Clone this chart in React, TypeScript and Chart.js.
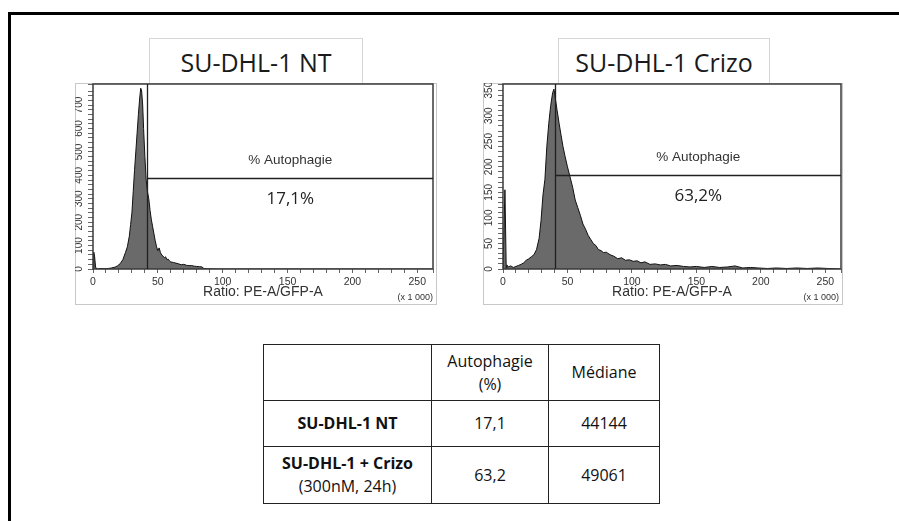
import React, { useEffect, useRef } from "react";
import { Chart, registerables } from "chart.js";

Chart.register(...registerables);

// ---------- DATA ----------
// Ratio PE-A/GFP-A (x 1 000) bin positions and event counts, SU-DHL-1 NT
const NT_X = [0, 0.6, 1.2, 2, 3, 6, 10, 14, 17, 19, 21, 23, 25, 26.5, 28, 29, 30, 31, 32, 33, 34, 35, 36, 36.8, 37.5, 38.3, 39, 40, 41, 42, 43, 44, 45, 46, 47, 48, 49, 50, 51, 52, 53, 54, 55, 56, 57, 58, 59, 60, 62, 64, 66, 68, 70, 72, 74, 76, 78, 80, 82, 84, 85, 86, 88, 95, 120, 180, 262];
const NT_Y = [0, 72, 55, 8, 0, 2, 1, 4, 8, 14, 23, 40, 70, 95, 140, 190, 240, 330, 420, 500, 580, 660, 730, 772, 760, 700, 600, 480, 380, 330, 300, 250, 210, 180, 150, 120, 95, 78, 90, 70, 60, 55, 48, 52, 40, 42, 35, 30, 28, 25, 22, 18, 20, 16, 14, 15, 12, 11, 10, 9, 4, 2, 1, 0, 0, 0, 0];

// SU-DHL-1 Crizo
const CRIZO_X = [0, 1.5, 2, 2.5, 3, 4, 6, 8, 10, 12, 14, 16, 18, 20, 22, 24, 26, 28, 29.5, 31, 32.5, 34, 35.5, 37, 38.5, 39.5, 40.5, 42, 43.5, 45, 46.5, 48, 50, 52, 54, 56, 58, 60, 62, 64, 66, 68, 70, 72, 74, 76, 78, 80, 83, 86, 89, 92, 95, 98, 101, 104, 107, 110, 114, 118, 122, 126, 130, 135, 140, 145, 150, 156, 162, 168, 174, 180, 186, 192, 198, 205, 212, 220, 228, 236, 244, 252, 262];
const CRIZO_Y = [0, 155, 78, 0, 8, 4, 6, 3, 5, 7, 9, 12, 17, 20, 24, 28, 38, 60, 95, 145, 175, 240, 285, 320, 345, 352, 335, 310, 285, 262, 240, 222, 200, 180, 160, 135, 120, 105, 88, 78, 66, 58, 50, 46, 38, 36, 32, 33, 28, 25, 20, 22, 17, 18, 15, 16, 12, 14, 9, 10, 8, 9, 6, 7, 5, 4, 5, 3, 5, 3, 4, 6, 2, 3, 2, 1, 2, 1, 2, 1, 2, 1, 0];

const TITLES = ["SU-DHL-1 NT", "SU-DHL-1 Crizo"];
const GATE_X = [42, 40.6];
const GATE_Y = [388, 183];
const GATE_PCT = ["17,1%", "63,2%"];
const Y_MAX = [790, 362];
const Y_STEP = [20, 10];
const Y_LABEL_STEP = [100, 50];
const X_MAX = 262.144;
const X_LABEL_STEP = 50;
const X_TITLE = "Ratio: PE-A/GFP-A";
const GATE_NAME = "% Autophagie";

const TABLE_HEAD = ["", "Autophagie\n(%)", "Médiane"];
const TABLE_ROW_NAMES = ["SU-DHL-1 NT", "SU-DHL-1 + Crizo"];
const TABLE_ROW_SUB = ["", "(300nM, 24h)"];
const TABLE_PCT = ["17,1", "63,2"];
const TABLE_MEDIAN = ["44144", "49061"];

// ---------- PLOT ----------
const gatePlugin = {
  id: "gate",
  afterDatasetsDraw(chart: any, _args: any, opts: any) {
    const { ctx, chartArea: a, scales } = chart;
    const x = scales.x;
    const y = scales.y;
    ctx.save();
    ctx.strokeStyle = "#3a3a3a";
    ctx.lineWidth = 1.5;
    ctx.strokeRect(a.left, a.top, a.right - a.left, a.bottom - a.top);
    const gx = Math.round(x.getPixelForValue(opts.gateX)) + 0.5;
    const gy = Math.round(y.getPixelForValue(opts.gateY)) + 0.5;
    ctx.strokeStyle = "#202020";
    ctx.lineWidth = 1.3;
    ctx.beginPath();
    ctx.moveTo(gx, a.bottom);
    ctx.lineTo(gx, a.top);
    ctx.moveTo(gx, gy);
    ctx.lineTo(a.right, gy);
    ctx.stroke();
    const cx = (gx + a.right) / 2;
    ctx.textAlign = "center";
    ctx.textBaseline = "middle";
    ctx.fillStyle = "#333";
    ctx.font = '13.5px "Liberation Sans", Arial, sans-serif';
    ctx.fillText(opts.name, cx, gy - 18);
    ctx.fillStyle = "#222";
    ctx.font = '17px "Open Sans", sans-serif';
    ctx.fillText(opts.pct, cx, gy + 21);
    ctx.fillStyle = "#333";
    ctx.font = '9px "Liberation Sans", Arial, sans-serif';
    ctx.textAlign = "right";
    ctx.fillText("(x 1 000)", chart.width - 4, chart.height - 7);
    ctx.restore();
  },
};

type HistProps = {
  idx: number;
  xs: number[];
  ys: number[];
  left: number;
  top: number;
  width: number;
  height: number;
  yAxisWidth: number;
  padRight: number;
};

function Histogram({ idx, xs, ys, left, top, width, height, yAxisWidth, padRight }: HistProps) {
  const ref = useRef<HTMLCanvasElement | null>(null);
  useEffect(() => {
    if (!ref.current) return;
    const points = xs.map((v, i) => ({ x: v, y: ys[i] }));
    const chart = new Chart(ref.current, {
      type: "line",
      data: {
        datasets: [
          {
            data: points,
            borderColor: "#111",
            borderWidth: 1,
            backgroundColor: "#6a6a6a",
            fill: "origin",
            pointRadius: 0,
            tension: 0,
          },
        ],
      },
      options: {
        animation: false,
        responsive: false,
        events: [],
        layout: { padding: { top: 1, right: padRight, left: 0, bottom: 0 } },
        plugins: {
          legend: { display: false },
          tooltip: { enabled: false },
          gate: { gateX: GATE_X[idx], gateY: GATE_Y[idx], pct: GATE_PCT[idx], name: GATE_NAME },
        } as any,
        scales: {
          x: {
            type: "linear",
            min: 0,
            max: X_MAX,
            afterFit: (s: any) => {
              s.height = 36;
              s.paddingLeft = 0;
              s.paddingRight = 0;
            },
            ticks: {
              stepSize: 10,
              autoSkip: false,
              maxRotation: 0,
              padding: 3,
              color: "#333",
              font: { size: 10.5, family: '"Liberation Sans", Arial, sans-serif' },
              callback: (v: any) => (Number(v) % X_LABEL_STEP === 0 ? String(v) : ""),
            },
            grid: { drawOnChartArea: false, tickLength: 4, color: "#666" },
            border: { display: false },
            title: {
              display: true,
              text: X_TITLE,
              color: "#333",
              font: { size: 14, family: '"Liberation Sans", Arial, sans-serif' },
              padding: { top: 0, bottom: 4 },
            },
          },
          y: {
            type: "linear",
            min: 0,
            max: Y_MAX[idx],
            afterFit: (s: any) => {
              s.width = yAxisWidth;
              s.paddingTop = 0;
              s.paddingBottom = 0;
            },
            ticks: {
              stepSize: Y_STEP[idx],
              autoSkip: false,
              minRotation: 90,
              maxRotation: 90,
              crossAlign: "center",
              padding: 0,
              color: "#333",
              font: { size: 10, family: '"Liberation Sans", Arial, sans-serif' },
              callback: (v: any) => (Number(v) % Y_LABEL_STEP[idx] === 0 ? String(v) : ""),
            },
            grid: { drawOnChartArea: false, tickLength: 5, color: "#666" },
            border: { display: false },
          },
        },
      },
      plugins: [gatePlugin as any],
    });
    return () => chart.destroy();
  }, [idx, xs, ys, yAxisWidth, padRight]);

  return (
    <canvas
      ref={ref}
      width={width}
      height={height}
      style={{ position: "absolute", left, top, width, height, display: "block" }}
    />
  );
}

const font = '"Open Sans", "Noto Sans", sans-serif';

function TitleBox({ text, left, width }: { text: string; left: number; width: number }) {
  return (
    <div
      style={{
        position: "absolute",
        left,
        top: 38,
        width,
        height: 45,
        boxSizing: "border-box",
        border: "1px solid #d6d6d6",
        borderBottom: "none",
        background: "#fff",
        fontFamily: font,
        fontSize: 25,
        color: "#1a1a1a",
        display: "flex",
        alignItems: "center",
        justifyContent: "center",
        paddingTop: 2,
      }}
    >
      {text}
    </div>
  );
}

export default function App() {
  const cell: React.CSSProperties = {
    border: "1.5px solid #222",
    textAlign: "center",
    verticalAlign: "middle",
    padding: 0,
    fontFamily: font,
    fontSize: 16,
    color: "#111",
    lineHeight: "23px",
  };
  return (
    <div style={{ position: "absolute", left: 0, top: 0, width: 899, height: 521, background: "#fff", overflow: "hidden" }}>
      <div
        style={{
          position: "absolute",
          left: 8,
          top: 12,
          width: 900,
          height: 520,
          borderTop: "3px solid #000",
          borderLeft: "3px solid #000",
        }}
      />
      <TitleBox text={TITLES[0]} left={149} width={214} />
      <TitleBox text={TITLES[1]} left={558} width={212} />
      <div style={{ position: "absolute", left: 75, top: 83, width: 362, height: 222, boxSizing: "border-box", border: "1px solid #c8c8c8" }} />
      <div style={{ position: "absolute", left: 483, top: 83, width: 360, height: 222, boxSizing: "border-box", border: "1px solid #c8c8c8" }} />
      <Histogram idx={0} xs={NT_X} ys={NT_Y} left={75} top={83} width={362} height={222} yAxisWidth={18} padRight={4} />
      <Histogram idx={1} xs={CRIZO_X} ys={CRIZO_Y} left={483} top={83} width={360} height={222} yAxisWidth={20} padRight={2} />
      <table
        style={{
          position: "absolute",
          left: 263,
          top: 344,
          width: 396,
          borderCollapse: "collapse",
          tableLayout: "fixed",
        }}
      >
        <colgroup>
          <col style={{ width: 168 }} />
          <col style={{ width: 117 }} />
          <col style={{ width: 111 }} />
        </colgroup>
        <tbody>
          <tr style={{ height: 56 }}>
            {TABLE_HEAD.map((h, i) => (
              <td key={i} style={cell}>
                {h.split("\n").map((line, j) => (
                  <div key={j}>{line}</div>
                ))}
              </td>
            ))}
          </tr>
          {TABLE_ROW_NAMES.map((name, r) => (
            <tr key={r} style={{ height: r === 0 ? 46 : 57 }}>
              <td style={cell}>
                <div style={{ fontWeight: 700 }}>{name}</div>
                {TABLE_ROW_SUB[r] ? <div>{TABLE_ROW_SUB[r]}</div> : null}
              </td>
              <td style={cell}>{TABLE_PCT[r]}</td>
              <td style={cell}>{TABLE_MEDIAN[r]}</td>
            </tr>
          ))}
        </tbody>
      </table>
    </div>
  );
}
